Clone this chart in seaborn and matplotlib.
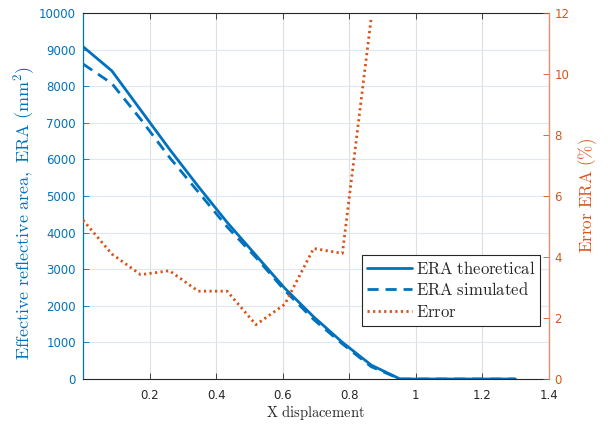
import numpy as np
import pandas as pd
import matplotlib
matplotlib.use("Agg")
import matplotlib.pyplot as plt
import seaborn as sns

# ---- data ----
x_disp = [0.0, 0.0866, 0.1732, 0.2598, 0.3464, 0.4330, 0.5196, 0.6062,
          0.6928, 0.7794, 0.8660, 0.9526, 1.0392, 1.1258, 1.2124, 1.2990]
era_theoretical = [9080, 8420, 7350, 6280, 5260, 4280, 3380, 2480,
                   1700, 1000, 380, 0, 0, 0, 0, 0]
era_simulated = [8608, 8075, 7099, 6057, 5109, 4157, 3320, 2419,
                 1627, 959, 335, 0, 0, 0, 0, 0]
x_err = [0.0, 0.0866, 0.1732, 0.2598, 0.3464, 0.4330, 0.5196, 0.6062,
         0.6928, 0.7794, 0.8660]
error_pct = [5.21, 4.10, 3.42, 3.55, 2.88, 2.88, 1.78, 2.45, 4.28, 4.12, 11.85]

x_ticks = [0.2, 0.4, 0.6, 0.8, 1.0, 1.2, 1.4]
x_tick_labels = ["0.2", "0.4", "0.6", "0.8", "1", "1.2", "1.4"]
left_ticks = [0, 1000, 2000, 3000, 4000, 5000, 6000, 7000, 8000, 9000, 10000]
right_ticks = [0, 2, 4, 6, 8, 10, 12]

BLUE = "#0072BD"
ORANGE = "#D95319"

sns.set_theme(style="white")
plt.rcParams["font.family"] = ["DejaVu Sans"]
plt.rcParams["mathtext.fontset"] = "cm"
plt.rcParams["xtick.direction"] = "in"
plt.rcParams["ytick.direction"] = "in"

df_era = pd.DataFrame({"x": x_disp, "theo": era_theoretical, "sim": era_simulated})
df_err = pd.DataFrame({"x": x_err, "err": error_pct})

fig = plt.figure(figsize=(6.08, 4.25), dpi=100)
ax = fig.add_axes([83 / 608, 1 - 379 / 425, (549 - 83) / 608, (379 - 13) / 425])
ax2 = ax.twinx()

sns.lineplot(data=df_era, x="x", y="theo", ax=ax, color=BLUE, linewidth=2.0,
             label=r"$\mathrm{ERA\ theoretical}$", legend=False)
sns.lineplot(data=df_era, x="x", y="sim", ax=ax, color=BLUE, linewidth=2.0,
             linestyle=(0, (4, 2.5)), label=r"$\mathrm{ERA\ simulated}$", legend=False)
sns.lineplot(data=df_err, x="x", y="err", ax=ax2, color=ORANGE, linewidth=2.0,
             linestyle=(0, (0.8, 1.2)), label=r"$\mathrm{Error}$", legend=False)

ax.set_xlim(0, 1.4)
ax.set_ylim(0, 10000)
ax2.set_ylim(0, 12)
ax.set_xticks(x_ticks)
ax.set_xticklabels(x_tick_labels)
ax.set_yticks(left_ticks)
ax.set_yticklabels([str(v) for v in left_ticks])
ax2.set_yticks(right_ticks)
ax2.set_yticklabels([str(v) for v in right_ticks])

# grids
ax.set_axisbelow(True)
ax.grid(True, axis="x", color="#DFDFDF", linewidth=0.8)
ax.grid(True, axis="y", color="#DCE9F4", linewidth=0.8)
ax2.grid(False)

# ticks and spines
dark = "#262626"
ax.tick_params(axis="x", which="both", direction="in", length=4, width=0.6,
               colors=dark, labelsize=8.5, top=True, bottom=True, pad=7)
ax.tick_params(axis="y", direction="in", length=4, width=0.6, color=BLUE,
               labelcolor=BLUE, labelsize=8.5, pad=5)
ax2.tick_params(axis="y", direction="in", length=4, width=0.6, color=ORANGE,
                labelcolor=ORANGE, labelsize=8.5, pad=4)
for sp in ["top", "bottom"]:
    ax.spines[sp].set_color(dark)
    ax.spines[sp].set_linewidth(0.8)
ax.spines["left"].set_color(BLUE)
ax.spines["left"].set_linewidth(0.9)
ax2.spines["right"].set_color("#E8906A")
ax2.spines["right"].set_linewidth(1.0)
ax2.spines["left"].set_visible(False)
ax2.spines["top"].set_visible(False)
ax2.spines["bottom"].set_visible(False)
ax.spines["right"].set_visible(False)

ax.set_xlabel(r"$\mathrm{X\ displacement}$", fontsize=10.5, color=dark, labelpad=1)
ax.set_ylabel(r"$\mathrm{Effective\ reflective\ area,\ ERA\ (mm^2)}$",
              fontsize=13, color=BLUE)
ax.yaxis.set_label_coords(-0.099, 0.455)
ax2.set_ylabel(r"$\mathrm{Error\ ERA\ (\%)}$", fontsize=12.3, color=ORANGE,
               labelpad=5, rotation=90)

h1, l1 = ax.get_legend_handles_labels()
h2, l2 = ax2.get_legend_handles_labels()
leg = ax2.legend(h1 + h2, l1 + l2, loc="lower right",
                 bbox_to_anchor=(0.981, 0.145), fontsize=12, frameon=True,
                 fancybox=False, framealpha=1, edgecolor=dark,
                 handlelength=2.7, handletextpad=0.25, borderpad=0.3,
                 labelspacing=0.22, borderaxespad=0)
leg.get_frame().set_linewidth(0.8)

fig.savefig("out.png", dpi=100)
